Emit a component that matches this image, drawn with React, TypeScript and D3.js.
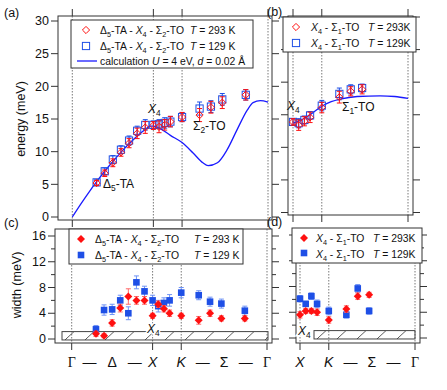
import React from 'react';
import * as d3 from 'd3';

// position along the path Γ–X–K–Γ (units of 2π/a)
const qG0 = 0;
const qX = 1.0;
const qK = 1.354;
const qG1 = 2.414;

// (a) Δ5-TA / X4 / Σ2-TO energies (meV)
const qA = [0.3, 0.4, 0.5, 0.6, 0.7, 0.8, 0.9, 1.0, 1.07, 1.14, 1.21, 1.354, 1.57, 1.71, 1.85, 2.14];
const eA293 = [5.2, 6.7, 8.3, 9.9, 11.3, 12.8, 13.7, 14.0, 13.8, 14.1, 14.6, 15.3, 15.6, 16.8, 17.5, 18.7];
const eA129 = [5.3, 7.0, 8.8, 10.3, 11.7, 13.2, 14.1, 14.1, 14.2, 14.4, 14.6, 15.3, 16.6, 16.9, 18.0, 18.7];
const errA293 = [0.4, 0.5, 0.6, 0.6, 0.7, 0.8, 0.9, 0.6, 0.9, 0.8, 0.8, 0.7, 1.0, 0.9, 0.9, 0.8];
const errA129 = [0.4, 0.5, 0.6, 0.6, 0.7, 0.7, 0.8, 0.6, 0.7, 0.8, 0.8, 0.7, 1.0, 0.9, 0.9, 0.8];

// (a) calculation U = 4 eV, d = 0.02 Å
const calcAq = [0, 0.1, 0.2, 0.3, 0.4, 0.5, 0.6, 0.7, 0.8, 0.9, 0.96, 1.0, 1.09, 1.21, 1.354, 1.49, 1.61, 1.675, 1.79, 1.91, 2.03, 2.16, 2.23, 2.32, 2.414];
const calcAe = [0, 1.9, 3.7, 5.4, 7.0, 8.5, 9.9, 11.2, 12.4, 13.4, 13.9, 13.9, 13.5, 12.5, 11.4, 9.8, 8.3, 7.85, 8.3, 10.3, 13.3, 16.4, 17.5, 17.8, 17.6];

// (b) X4 / Σ1-TO energies (meV)
const qB = [1.0, 1.07, 1.14, 1.21, 1.354, 1.57, 1.71, 1.85];
const eB293 = [13.9, 13.4, 14.0, 14.6, 16.1, 17.7, 18.6, 18.9];
const eB129 = [13.9, 13.7, 14.2, 14.9, 16.4, 18.2, 18.9, 19.1];
const errB293 = [0.5, 0.8, 0.7, 0.8, 0.8, 0.9, 0.7, 0.7];
const errB129 = [0.5, 0.7, 0.6, 0.6, 0.8, 0.9, 0.7, 0.6];
const calcBq = [1.0, 1.1, 1.21, 1.354, 1.47, 1.58, 1.79, 2.07, 2.25, 2.414];
const calcBe = [13.7, 14.2, 15.0, 16.3, 17.0, 17.4, 17.8, 17.9, 17.8, 17.5];

// (c) widths (meV), same q as (a)
const wC293 = [0.8, 0.5, 2.5, 4.8, 6.6, 6.0, 6.0, 3.6, 5.4, 4.7, 4.0, 3.6, 2.9, 4.0, 3.2, 3.2];
const wC129 = [1.5, 4.5, 4.6, 6.0, 4.0, 8.8, 7.4, 6.0, 5.1, 5.6, 6.0, 7.2, 6.8, 5.8, 5.5, 4.4];
const errC293 = [0.4, 0.3, 0.5, 0.6, 1.2, 0.6, 0.6, 0.4, 0.5, 0.5, 0.5, 0.4, 0.6, 0.5, 0.4, 0.4];
const errC129 = [0.6, 0.8, 0.8, 0.8, 1.0, 1.0, 0.8, 0.8, 0.9, 0.8, 0.9, 0.8, 0.7, 0.7, 0.7, 0.7];

// (d) widths (meV), same q as (b)
const wD293 = [3.6, 4.2, 4.2, 4.0, 2.8, 4.5, 6.5, 6.7];
const wD129 = [6.1, 5.3, 6.5, 5.3, 4.2, 3.6, 7.7, 4.2];
const errD293 = [0.5, 0.4, 0.4, 0.5, 0.5, 0.5, 0.5, 0.4];
const errD129 = [0.5, 0.4, 0.5, 0.6, 0.6, 0.5, 0.6, 0.5];

// instrumental resolution band (meV)
const resBand = [-0.15, 1.15];

const energyTicks = [0, 5, 10, 15, 20, 25, 30];
const widthTicks = [0, 4, 8, 12, 16];
const widthMinor = [2, 6, 10, 14];

const pathLabelsC = [
  {q: 0, t: 'Γ'}, {q: 0.22, t: '—'}, {q: 0.5, t: 'Δ'}, {q: 0.78, t: '—'}, {q: 1, t: 'X'},
  {q: 1.354, t: 'K'}, {q: 1.62, t: '—'}, {q: 1.884, t: 'Σ'}, {q: 2.15, t: '—'}, {q: 2.414, t: 'Γ'},
];
const pathLabelsD = pathLabelsC.slice(4);

const RED = '#ff1010';
const BLUE = '#1e4fe6';
const CALC = '#1a1aff';
const INK = '#333';
const FONT = '"Liberation Sans", Arial, sans-serif';

// "*X*" italic, "_4" subscript
function parse(s) {
  const out = [];
  let it = false;
  let buf = '';
  for (let i = 0; i < s.length; i++) {
    const c = s[i];
    if (c === '*') {
      if (buf) out.push({t: buf, it, sub: false});
      buf = '';
      it = !it;
    } else if (c === '_') {
      if (buf) out.push({t: buf, it, sub: false});
      buf = '';
      out.push({t: s[i + 1], it: false, sub: true});
      i++;
    } else buf += c;
  }
  if (buf) out.push({t: buf, it, sub: false});
  return out;
}

function Rich({x, y, s, size = 11, anchor = 'start', halo = false}) {
  const parts = parse(s);
  let prevSub = false;
  return (
    <text x={x} y={y} fontSize={size} fontFamily={FONT} textAnchor={anchor} fill="#111"
      stroke={halo ? '#fff' : 'none'} strokeWidth={halo ? 3 : 0} style={{paintOrder: 'stroke'}}>
      {parts.map((p, i) => {
        let dy = 0;
        if (p.sub && !prevSub) dy = size * 0.28;
        if (!p.sub && prevSub) dy = -size * 0.28;
        prevSub = p.sub;
        return (
          <tspan key={i} dy={dy} fontStyle={p.it ? 'italic' : 'normal'} fontSize={p.sub ? size * 0.7 : size}>
            {p.t}
          </tspan>
        );
      })}
    </text>
  );
}

function Marker({kind, x, y, color}) {
  if (kind === 'openDiamond')
    return <path d={`M${x},${y - 3.6}L${x + 3.6},${y}L${x},${y + 3.6}L${x - 3.6},${y}Z`} fill="none" stroke={color} strokeWidth={1} />;
  if (kind === 'openSquare')
    return <rect x={x - 3.6} y={y - 3.6} width={7.2} height={7.2} fill="none" stroke={color} strokeWidth={1} />;
  if (kind === 'diamond')
    return <path d={`M${x},${y - 4}L${x + 4},${y}L${x},${y + 4}L${x - 4},${y}Z`} fill={color} />;
  return <rect x={x - 3.3} y={y - 3.3} width={6.6} height={6.6} fill={color} />;
}

function Series({qs, vs, errs, x, y, kind, color, barColor}) {
  return (
    <g>
      {qs.map((q, i) => {
        const cx = x(q);
        const y0 = y(vs[i] - errs[i]);
        const y1 = y(vs[i] + errs[i]);
        return (
          <g key={i}>
            <line x1={cx} x2={cx} y1={y0} y2={y1} stroke={barColor} strokeWidth={1} />
            <line x1={cx - 2.5} x2={cx + 2.5} y1={y0} y2={y0} stroke={barColor} strokeWidth={1} />
            <line x1={cx - 2.5} x2={cx + 2.5} y1={y1} y2={y1} stroke={barColor} strokeWidth={1} />
            <Marker kind={kind} x={cx} y={y(vs[i])} color={color} />
          </g>
        );
      })}
    </g>
  );
}

function Frame({fr, x, y, sym, majors, minors = [], labels, top = true, labelGap = 9}) {
  return (
    <g>
      <rect x={fr.l} y={fr.t} width={fr.r - fr.l} height={fr.b - fr.t} fill="none" stroke={INK} strokeWidth={1} />
      {sym.map((q, i) => (
        <g key={i}>
          <line x1={x(q)} x2={x(q)} y1={fr.t} y2={fr.b} stroke="#555" strokeWidth={0.8} strokeDasharray="1.5,1.5" />
          <line x1={x(q)} x2={x(q)} y1={fr.b} y2={fr.b + 7} stroke={INK} />
          {top && <line x1={x(q)} x2={x(q)} y1={fr.t} y2={fr.t - 7} stroke={INK} />}
        </g>
      ))}
      {majors.map(v => (
        <g key={'M' + v}>
          <line x1={fr.l - 7} x2={fr.l} y1={y(v)} y2={y(v)} stroke={INK} />
          <line x1={fr.r} x2={fr.r + 7} y1={y(v)} y2={y(v)} stroke={INK} />
          {labels && (
            <text x={fr.l - labelGap} y={y(v) + 4.2} textAnchor="end" fontSize={12.5} fontFamily={FONT} fill="#111">
              {v}
            </text>
          )}
        </g>
      ))}
      {minors.map(v => (
        <g key={'m' + v}>
          <line x1={fr.l - 4} x2={fr.l} y1={y(v)} y2={y(v)} stroke={INK} />
          <line x1={fr.r} x2={fr.r + 4} y1={y(v)} y2={y(v)} stroke={INK} />
        </g>
      ))}
    </g>
  );
}

function PathLabels({labels, x, y}) {
  return (
    <g>
      {labels.map((l, i) => (
        <text key={i} x={x(l.q)} y={y} textAnchor="middle" fontSize={14}
          fontFamily={l.t === 'Γ' ? '"Liberation Serif", serif' : FONT}
          fontStyle={l.t === 'X' || l.t === 'K' ? 'italic' : 'normal'} fill="#111">
          {l.t}
        </text>
      ))}
    </g>
  );
}

function Hatch({id, x0, x1, yTop, yBot}) {
  return (
    <g>
      <defs>
        <pattern id={id} patternUnits="userSpaceOnUse" width={20} height={yBot - yTop} x={x0} y={yTop}>
          <line x1={3} y1={yBot - yTop} x2={12} y2={0} stroke="#444" strokeWidth={0.9} />
        </pattern>
      </defs>
      <rect x={x0} y={yTop} width={x1 - x0} height={yBot - yTop} fill={`url(#${id})`} stroke="#444" strokeWidth={1} />
    </g>
  );
}

export default function App() {
  // panel frames
  const frA = {l: 58, r: 272, t: 16, b: 220};
  const frB = {l: 288, r: 413, t: 16, b: 215};
  const frC = {l: 55, r: 272, t: 229, b: 343};
  const frD = {l: 296, r: 420, t: 229, b: 343};

  const xA = d3.scaleLinear().domain([qG0, qG1]).range([72.3, 268]);
  const yA = d3.scaleLinear().domain([0, 30]).range([217, 21]);
  const xB = d3.scaleLinear().domain([qX, qG1]).range([293, 408]);
  const yB = d3.scaleLinear().domain([0, 30]).range([212.5, 17]);
  const xC = d3.scaleLinear().domain([qG0, qG1]).range([71.7, 267]);
  const yC = d3.scaleLinear().domain([0, 16]).range([339, 236]);
  const xD = d3.scaleLinear().domain([qX, qG1]).range([300, 415]);
  const yD = d3.scaleLinear().domain([0, 16]).range([338, 235]);

  const lineA = d3.line().x(d => xA(d[0])).y(d => yA(d[1])).curve(d3.curveMonotoneX);
  const lineB = d3.line().x(d => xB(d[0])).y(d => yB(d[1])).curve(d3.curveMonotoneX);

  const symAC = [qG0, qX, qK, qG1];
  const symBD = [qX, qK, qG1];

  return (
    <svg width={447} height={390} style={{position: 'absolute', left: 0, top: 0, background: '#fff'}}>
      {/* ---------- (a) ---------- */}
      <Frame fr={frA} x={xA} y={yA} sym={symAC} majors={energyTicks} labels={true} />
      <path d={lineA(calcAq.map((q, i) => [q, calcAe[i]]))} fill="none" stroke={CALC} strokeWidth={1.3} />
      <Series qs={qA} vs={eA129} errs={errA129} x={xA} y={yA} kind="openSquare" color={BLUE} barColor={BLUE} />
      <Series qs={qA} vs={eA293} errs={errA293} x={xA} y={yA} kind="openDiamond" color={RED} barColor={RED} />
      <Rich x={103} y={188} s="Δ_5-TA" size={12} />
      <Rich x={148} y={113} s="*X*_4" size={12} />
      <Rich x={193} y={130} s="Σ_2-TO" size={12} />
      <g>
        <rect x={71} y={20} width={182} height={48} fill="#fff" stroke={INK} />
        <path d="M86,26.4L89.6,30L86,33.6L82.4,30Z" fill="none" stroke={RED} />
        <rect x={82.4} y={42.4} width={7.2} height={7.2} fill="none" stroke={BLUE} />
        <line x1={77} x2={97} y1={61} y2={61} stroke={CALC} strokeWidth={1.3} />
        <Rich x={100} y={34} s="Δ_5-TA - *X*_4 - Σ_2-TO" size={10.4} />
        <Rich x={190} y={34} s="*T* = 293 K" size={10.4} />
        <Rich x={100} y={50} s="Δ_5-TA - *X*_4 - Σ_2-TO" size={10.4} />
        <Rich x={190} y={50} s="*T* = 129 K" size={10.4} />
        <Rich x={100} y={65} s="calculation *U* = 4 eV, *d* = 0.02 Å" size={10.4} />
      </g>
      <text transform="translate(25,119) rotate(-90)" textAnchor="middle" fontSize={12.5} fontFamily={FONT} fill="#111">
        energy (meV)
      </text>
      <text x={4} y={17} fontSize={12.5} fontFamily={FONT} fill="#111">(a)</text>

      {/* ---------- (b) ---------- */}
      <Frame fr={frB} x={xB} y={yB} sym={symBD} majors={energyTicks} labels={false} />
      <path d={lineB(calcBq.map((q, i) => [q, calcBe[i]]))} fill="none" stroke={CALC} strokeWidth={1.3} />
      <Series qs={qB} vs={eB129} errs={errB129} x={xB} y={yB} kind="openSquare" color={BLUE} barColor={BLUE} />
      <Series qs={qB} vs={eB293} errs={errB293} x={xB} y={yB} kind="openDiamond" color={RED} barColor={RED} />
      <Rich x={287} y={110} s="*X*_4" size={12} />
      <Rich x={342} y={111} s="Σ_1-TO" size={12} />
      <g>
        <rect x={283} y={17} width={133} height={35} fill="#fff" stroke={INK} />
        <path d="M296,23.4L299.6,27L296,30.6L292.4,27Z" fill="none" stroke={RED} />
        <rect x={292.4} y={39.4} width={7.2} height={7.2} fill="none" stroke={BLUE} />
        <Rich x={311} y={31} s="*X*_4 - Σ_1-TO" size={10.4} />
        <Rich x={368} y={31} s="*T* = 293K" size={10.4} />
        <Rich x={311} y={47} s="*X*_4 - Σ_1-TO" size={10.4} />
        <Rich x={368} y={47} s="*T* = 129K" size={10.4} />
      </g>
      <text x={267} y={16} fontSize={12.5} fontFamily={FONT} fill="#111">(b)</text>

      {/* ---------- (c) ---------- */}
      <Frame fr={frC} x={xC} y={yC} sym={symAC} majors={widthTicks} minors={widthMinor} labels={true} top={false} />
      <Hatch id="hatchC" x0={62} x1={268} yTop={yC(resBand[1])} yBot={yC(resBand[0])} />
      <Series qs={qA} vs={wC129} errs={errC129} x={xC} y={yC} kind="square" color={BLUE} barColor="#6f93f5" />
      <Series qs={qA} vs={wC293} errs={errC293} x={xC} y={yC} kind="diamond" color={RED} barColor="#ff6a6a" />
      <Rich x={147} y={333} s="*X*_4" size={12} halo={true} />
      <g>
        <rect x={69} y={229} width={174} height={35} fill="#fff" stroke={INK} />
        <path d="M81,235L85,239L81,243L77,239Z" fill={RED} />
        <rect x={77.7} y={251.7} width={6.6} height={6.6} fill={BLUE} />
        <Rich x={95} y={243} s="Δ_5-TA - *X*_4 - Σ_2-TO" size={10.4} />
        <Rich x={194} y={243} s="*T* = 293 K" size={10.4} />
        <Rich x={95} y={259} s="Δ_5-TA - *X*_4 - Σ_2-TO" size={10.4} />
        <Rich x={194} y={259} s="*T* = 129 K" size={10.4} />
      </g>
      <PathLabels labels={pathLabelsC} x={xC} y={367} />
      <text transform="translate(21,285) rotate(-90)" textAnchor="middle" fontSize={12.5} fontFamily={FONT} fill="#111">
        width (meV)
      </text>
      <text x={4} y={227} fontSize={12.5} fontFamily={FONT} fill="#111">(c)</text>

      {/* ---------- (d) ---------- */}
      <Frame fr={frD} x={xD} y={yD} sym={symBD} majors={widthTicks} minors={widthMinor} labels={false} top={false} />
      <Hatch id="hatchD" x0={314} x1={415} yTop={yD(resBand[1])} yBot={yD(resBand[0])} />
      <Series qs={qB} vs={wD129} errs={errD129} x={xD} y={yD} kind="square" color={BLUE} barColor="#6f93f5" />
      <Series qs={qB} vs={wD293} errs={errD293} x={xD} y={yD} kind="diamond" color={RED} barColor="#ff6a6a" />
      <Rich x={298} y={335} s="*X*_4" size={12} halo={true} />
      <g>
        <rect x={292} y={228} width={130} height={35} fill="#fff" stroke={INK} />
        <path d="M304,234L308,238L304,242L300,238Z" fill={RED} />
        <rect x={300.7} y={249.7} width={6.6} height={6.6} fill={BLUE} />
        <Rich x={316} y={242} s="*X*_4 - Σ_1-TO" size={10.4} />
        <Rich x={373} y={242} s="*T* = 293K" size={10.4} />
        <Rich x={316} y={258} s="*X*_4 - Σ_1-TO" size={10.4} />
        <Rich x={373} y={258} s="*T* = 129K" size={10.4} />
      </g>
      <PathLabels labels={pathLabelsD} x={xD} y={367} />
      <text x={267} y={226} fontSize={12.5} fontFamily={FONT} fill="#111">(d)</text>
    </svg>
  );
}
